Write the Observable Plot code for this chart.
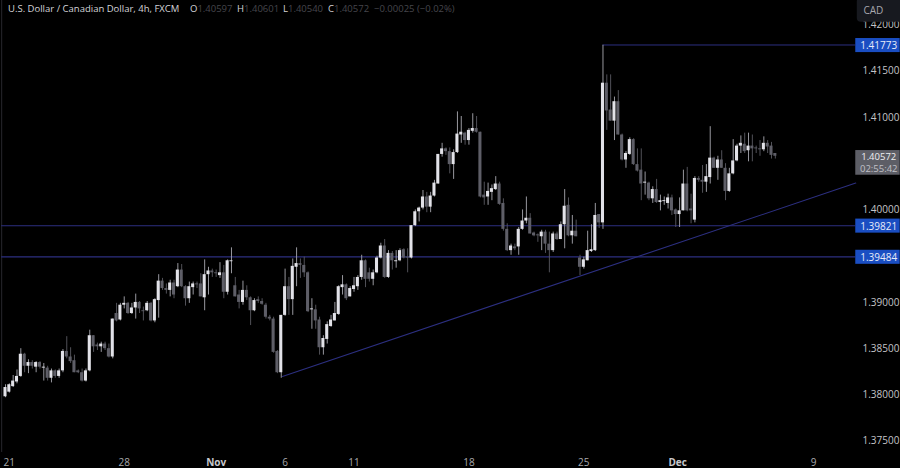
<!DOCTYPE html>
<html><head><meta charset="utf-8">
<script src="https://cdn.jsdelivr.net/npm/d3@7"></script>
<script src="https://cdn.jsdelivr.net/npm/@observablehq/plot@0.6"></script>
<style>
html,body{margin:0;padding:0;background:#000;width:900px;height:468px;overflow:hidden}
#chart{position:absolute;left:0;top:0}
#legend{position:absolute;left:8px;top:2px;height:14px;font:9.5px/14px "Open Sans",sans-serif;color:#d4d4d8;white-space:nowrap}
#legend span{position:absolute;top:0}
#legend b{font-weight:400;color:#46464c}
</style></head><body>
<div id="chart"></div>
<div id="legend"></div>
<script>
// Candle prices, in pips above 1.3800 (4h candles, oldest first)
const openPips = [-3,2,8,13,19,43,30,34,29,34,
28,28,17,25,19,25,46,40,36,25,
23,14,25,63,53,51,54,49,40,87,
80,96,98,87,93,99,90,90,98,79,
101,122,114,112,120,116,134,116,103,115,
119,119,104,129,133,131,128,131,110,143,
117,107,99,112,104,90,102,100,96,83,
81,46,23,85,116,102,137,141,139,131,
91,91,80,50,59,73,79,86,115,118,
105,113,116,126,144,131,124,131,147,160,
126,152,143,144,156,148,147,182,197,201,
213,202,214,227,259,265,262,248,261,280,
282,274,284,287,283,215,213,218,221,227,
206,178,155,159,159,178,187,190,174,172,
170,175,162,155,173,167,183,204,171,176,
147,137,144,154,155,194,185,336,307,295,
316,280,253,259,275,248,242,228,228,211,
221,207,208,206,212,199,194,198,227,200,
188,233,231,229,234,255,244,253,244,219,
238,252,268,270,263,268,266,265,264,271,
268,260];
const highPips = [10,11,20,26,49,44,37,36,35,35,
33,30,27,26,27,48,62,50,42,26,
27,27,69,63,55,56,56,54,81,98,
98,105,99,98,108,100,94,100,99,103,
129,125,119,123,123,141,140,117,121,121,
121,130,145,137,135,134,142,139,145,158,
126,112,122,117,105,103,105,103,98,85,
83,47,85,135,126,146,158,146,148,132,
103,96,83,63,78,85,99,117,128,119,
116,126,128,150,145,136,134,149,163,167,
155,154,155,157,157,157,182,199,202,220,
218,218,231,259,271,266,266,264,305,300,
283,287,303,300,283,229,228,226,235,229,
211,184,162,162,180,199,213,195,175,173,
177,177,175,175,175,186,221,212,193,188,
150,148,176,183,206,194,377,345,345,321,
328,281,262,277,276,265,265,240,229,224,
232,215,213,216,215,200,212,242,245,216,
235,235,247,248,289,256,257,263,249,244,
275,270,279,282,282,280,268,274,278,274,
272,260];
const lowPips = [-4,1,7,11,18,23,22,27,23,27,
14,14,12,17,17,23,38,33,23,22,
13,13,24,45,47,45,47,39,38,78,
79,92,86,86,81,87,79,89,78,77,
82,112,108,105,103,115,115,95,98,107,
114,105,90,107,126,126,125,103,107,130,
105,92,96,101,74,89,98,96,81,79,
44,22,17,84,85,85,116,125,126,88,
70,70,42,42,54,72,79,85,107,101,
105,110,112,123,115,121,117,130,146,125,
125,134,136,143,146,131,146,181,186,199,
196,196,213,227,256,258,238,232,260,271,
269,269,282,282,212,204,204,209,220,204,
176,154,150,155,150,177,184,173,170,164,
155,152,131,153,166,167,157,170,162,170,
128,135,144,153,154,179,178,285,295,274,
280,252,244,258,247,240,209,215,209,206,
206,198,204,200,193,180,180,198,197,184,
185,229,217,218,227,244,231,244,209,218,
237,251,260,260,251,251,260,257,262,260,
254,254];
const closePips = [7,10,14,19,43,30,34,30,34,29,
29,17,25,19,25,46,40,35,23,23,
14,25,63,51,51,54,49,40,81,79,
96,98,87,93,99,92,89,98,79,102,
122,114,112,120,107,134,116,103,116,119,
118,105,129,133,131,130,131,110,144,144,
105,99,112,104,90,101,100,97,83,81,
45,23,85,116,102,138,141,139,131,89,
92,79,50,60,75,80,87,116,118,103,
114,117,126,144,124,124,131,147,160,126,
152,144,144,155,147,147,182,197,201,213,
202,214,228,259,265,262,248,261,281,283,
274,285,287,283,213,212,219,222,227,205,
178,155,160,157,178,187,190,173,171,171,
175,162,155,173,167,183,203,171,176,170,
137,145,155,156,193,185,336,306,295,316,
280,253,260,275,248,241,227,229,211,221,
207,209,209,212,198,194,198,227,198,198,
233,231,229,235,255,244,253,244,219,238,
252,268,271,262,268,265,265,264,271,267,
258,257];

const priceTicks = [1.375,1.38,1.385,1.39,1.40,1.41,1.415,1.42];
const dayTickCandle = [1,31,73,91,121,151,211];
const dayTickLabel = ["21","28","6","11","18","25","9"];
const monthTickCandle = [55,175.5];
const monthTickLabel = ["Nov","Dec"];
const flatLevels = [1.39821,1.39484];
const peakLevel = 1.41773;
const peakCandle = 156;
const trendCandles = [72.3,222];
const trendPrices = [1.3819,1.4028];
const lastPrice = 1.40572;
const countdown = "02:55:42";

const axisEdge = 222;     // candle position of the price axis edge
const axisEnd = 233.6;
const labelCentre = 228;
const pip = p => 1.38 + p / 10000;
const candles = openPips.map((o, i) => ({i, open: pip(o), high: pip(highPips[i]), low: pip(lowPips[i]), close: pip(closePips[i])}));
const up = candles.filter(d => d.close >= d.open);
const down = candles.filter(d => d.close < d.open);
const blue = [peakLevel, ...flatLevels];
const lineColor = "#2c2f80";
const halfBody = 0.4, labelHalf = 0.00076, labelShift = 0.00006;

const fontFamily = '"Open Sans",sans-serif';
const chart = Plot.plot({
  width: 900, height: 468,
  marginLeft: 0, marginRight: 45, marginTop: 0, marginBottom: 16,
  style: {background: "#000", fontFamily},
  x: {type: "linear", domain: [0, 200], range: [5, 771], axis: null},
  y: {type: "linear", domain: [1.38, 1.40], range: [393.5, 208.5], axis: null},
  marks: [
    Plot.ruleX([-1], {stroke: "#26262c"}),
    Plot.ruleY(flatLevels, {x1: -1, x2: axisEdge, stroke: lineColor, strokeWidth: 1.2, dy: 0.2}),
    Plot.ruleY([peakLevel], {x1: peakCandle, x2: axisEdge, stroke: lineColor}),
    Plot.line(trendCandles.map((x, k) => ({x, y: trendPrices[k]})), {x: "x", y: "y", stroke: lineColor, strokeWidth: 1.1}),
    Plot.ruleX(up, {x: "i", y1: "low", y2: "high", stroke: "#a8a8b0", strokeWidth: 0.9}),
    Plot.ruleX(down, {x: "i", y1: "low", y2: "high", stroke: "#5a5a62", strokeWidth: 0.9}),
    Plot.rect(up, {x1: d => d.i - halfBody, x2: d => d.i + halfBody, y1: "open", y2: "close", fill: "#e2e2e8"}),
    Plot.rect(down, {x1: d => d.i - halfBody, x2: d => d.i + halfBody, y1: "open", y2: "close", fill: "#5e5e67"}),
    Plot.axisY(priceTicks, {anchor: "right", tickSize: 0, tickPadding: 7, dy: 1, tickFormat: d => d.toFixed(5), fontSize: 10, fill: "#c4c4c8", label: null}),
    Plot.axisX(dayTickCandle, {anchor: "bottom", tickSize: 0, tickPadding: 6, tickFormat: d => dayTickLabel[dayTickCandle.indexOf(d)], fontSize: 10, fill: "#a8a8ac", label: null}),
    Plot.axisX(monthTickCandle, {anchor: "bottom", tickSize: 0, tickPadding: 6, tickFormat: d => monthTickLabel[monthTickCandle.indexOf(d)], fontSize: 10, fontWeight: 700, fill: "#c8c8cc", label: null}),
    Plot.rect(blue, {x1: axisEdge, x2: axisEnd, y1: d => d - labelHalf - labelShift, y2: d => d + labelHalf - labelShift, fill: "#1a4ec2"}),
    Plot.text(blue, {x: labelCentre, y: d => d, dy: 1, text: d => d.toFixed(5), fill: "#e8ecf8", fontSize: 10}),
    Plot.rect([lastPrice], {x1: axisEdge, x2: axisEnd, y1: d => d + 0.0006, y2: d => d - 0.00207, fill: "#5d5e66"}),
    Plot.text([lastPrice], {x: labelCentre, y: d => d, dy: 1, text: d => d.toFixed(5), fill: "#eeeef0", fontSize: 9.5}),
    Plot.text([lastPrice], {x: labelCentre, y: d => d, dy: 13, text: () => countdown, fill: "#c0c0c6", fontSize: 9.5}),
    Plot.rect([1.4202], {x1: 222.4, x2: 238, y1: d => d, y2: d => d + 0.0026, fill: "#17191f", rx: 4}),
    Plot.text([1.4202], {x: 226.6, y: d => d + 0.00128, text: () => "CAD", fill: "#a8a8ae", fontSize: 10})
  ]
});
document.getElementById("chart").append(chart);

const legendParts = [
  [0, "U.S. Dollar / Canadian Dollar, 4h, FXCM"],
  [182, "O<b>1.40597</b>"], [229, "H<b>1.40601</b>"], [275, "L<b>1.40540</b>"],
  [320, "C<b>1.40572</b>"], [366, "<b>\u22120.00025 (\u22120.02%)</b>"]
];
document.getElementById("legend").innerHTML = legendParts.map(([x, t]) => `<span style="left:${x}px">${t}</span>`).join("");
</script>
</body></html>
